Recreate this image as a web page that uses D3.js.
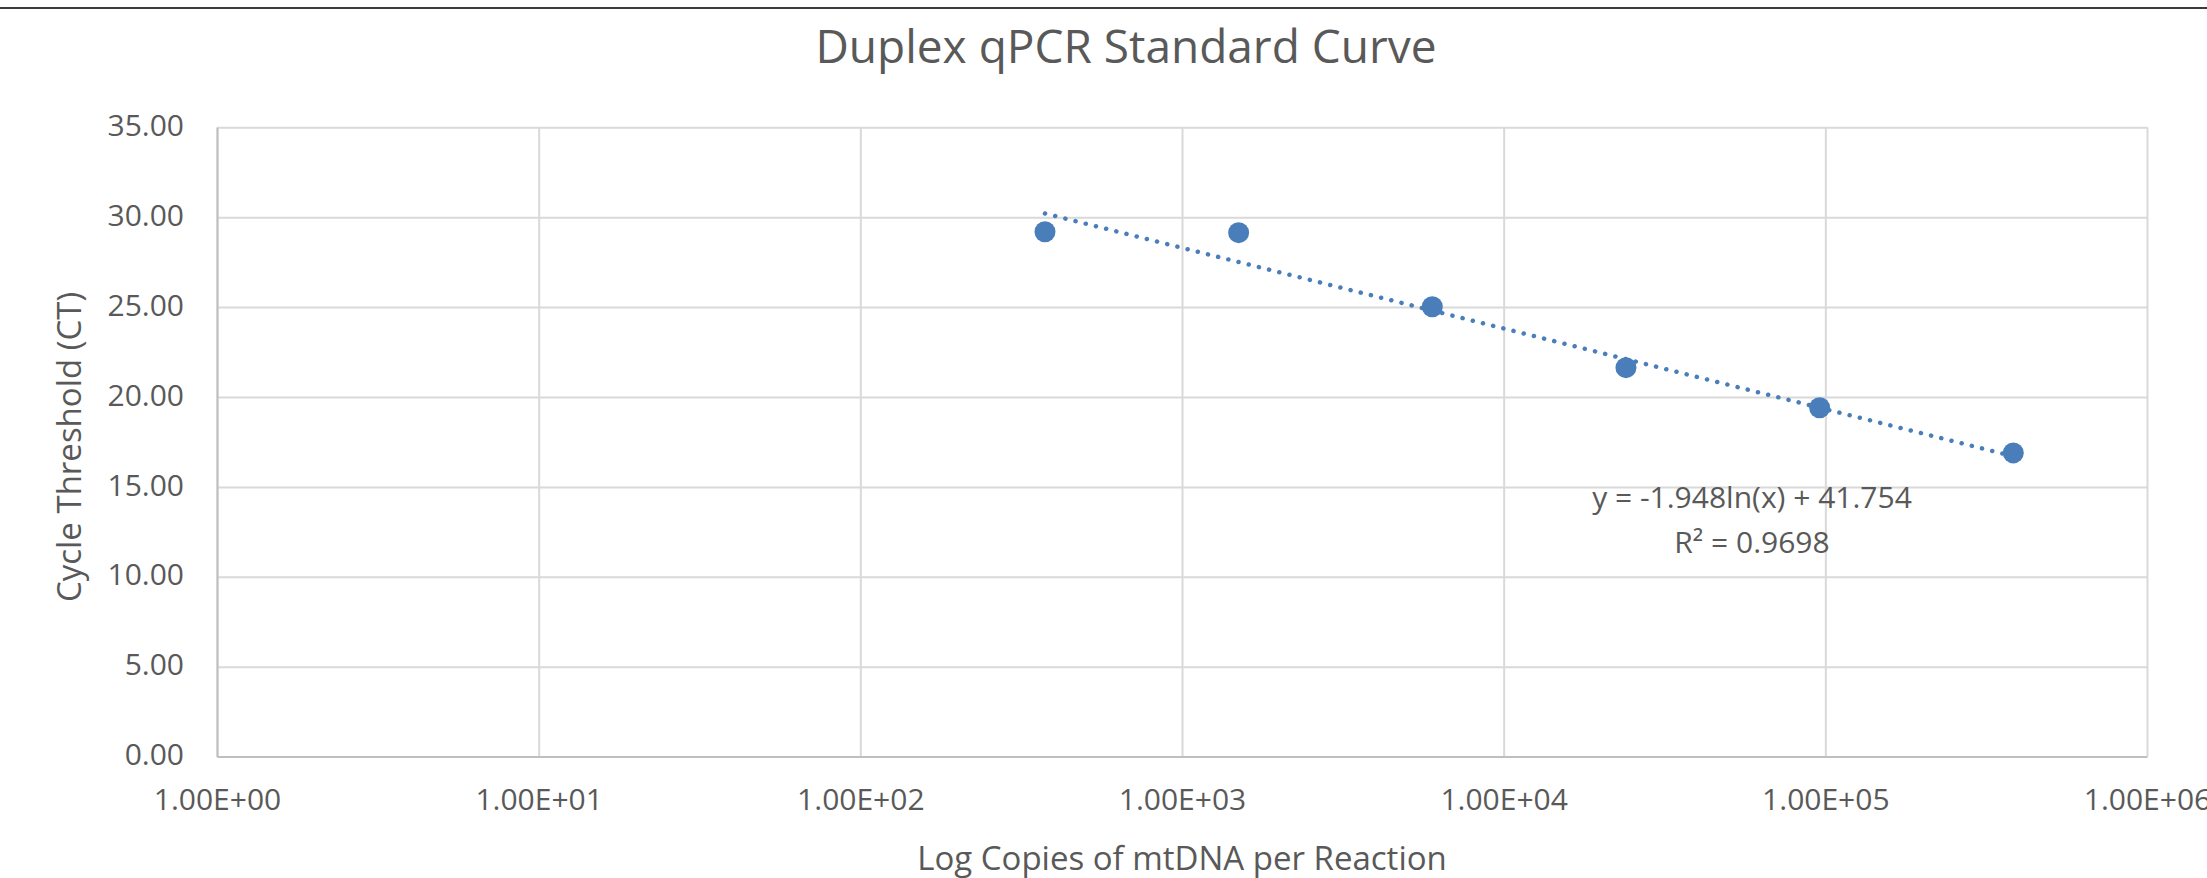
<!DOCTYPE html>
<html>
<head>
<meta charset="utf-8">
<script src="https://cdn.jsdelivr.net/npm/d3@7"></script>
<style>
  body { margin: 0; background: #fff; }
  text { font-family: "Open Sans", sans-serif; fill: #595959; }
</style>
</head>
<body>
<div id="chart"></div>
<script>
// data (4-fold dilution series)
var copies = [375, 1500, 6000, 24000, 96000, 384000];
var ctValues = [29.19, 29.14, 25.02, 21.63, 19.40, 16.89];
var xTicks = [1, 10, 100, 1000, 10000, 100000, 1000000];
var yTicks = [0, 5, 10, 15, 20, 25, 30, 35];
var trendSlope = -1.948, trendIntercept = 41.754;
var trendLabels = ["y = -1.948ln(x) + 41.754", "R\u00b2 = 0.9698"];

var W = 2207, H = 878;
var margin = {top: 127.3, right: 60, bottom: 121.4, left: 217};
var width = W - margin.left - margin.right,
    height = H - margin.top - margin.bottom;

var svg = d3.select("#chart").append("svg")
  .attr("width", W).attr("height", H);

svg.append("rect").attr("width", W).attr("height", H).attr("fill", "#fff");

// dark frame line across the top
svg.append("line")
  .attr("x1", 0).attr("x2", W).attr("y1", 8).attr("y2", 8)
  .attr("stroke", "#3a3a3a").attr("stroke-width", 2);

var g = svg.append("g")
  .attr("transform", "translate(" + margin.left + "," + margin.top + ")");

var x = d3.scaleLog().domain([1, 1e6]).range([0, width]);
var y = d3.scaleLinear().domain([0, 35]).range([height, 0]);

// gridlines
g.append("g")
  .call(d3.axisLeft(y).tickValues(yTicks).tickSize(-width).tickFormat(""))
  .call(function(s) { s.select(".domain").remove(); })
  .selectAll("line").attr("stroke", "#d9d9d9").attr("stroke-width", 2);

g.append("g")
  .attr("transform", "translate(0," + height + ")")
  .call(d3.axisBottom(x).tickValues(xTicks).tickSize(-height).tickFormat(""))
  .call(function(s) { s.select(".domain").remove(); })
  .selectAll("line").attr("stroke", "#d9d9d9").attr("stroke-width", 2);

// axes
var yAxis = g.append("g")
  .call(d3.axisLeft(y).tickValues(yTicks).tickSize(0).tickPadding(33)
    .tickFormat(d3.format(".2f")));
yAxis.select(".domain").attr("stroke", "#bfbfbf").attr("stroke-width", 2);
yAxis.selectAll("text")
  .attr("dy", "0.27em")
  .style("font-size", "30px")
  .style("font-family", "Open Sans")
  .attr("fill", "#595959");

var xAxis = g.append("g")
  .attr("transform", "translate(0," + height + ")")
  .call(d3.axisBottom(x).tickValues(xTicks).tickSize(0).tickPadding(32)
    .tickFormat(function(d) {
      var e = Math.round(Math.log10(d));
      return "1.00E+" + (e < 10 ? "0" : "") + e;
    }));
xAxis.select(".domain").attr("stroke", "#bfbfbf").attr("stroke-width", 2);
xAxis.selectAll("text")
  .style("font-size", "30px")
  .style("font-family", "Open Sans")
  .attr("fill", "#595959");

// trendline, log fit drawn between first and last point
var xEnds = d3.extent(copies);
g.append("path")
  .datum(xEnds)
  .attr("d", d3.line()
    .x(function(d) { return x(d); })
    .y(function(d) { return y(trendSlope * Math.log(d) + trendIntercept); }))
  .attr("fill", "none")
  .attr("stroke", "#4a7ebb")
  .attr("stroke-width", 4.5)
  .attr("stroke-linecap", "round")
  .attr("stroke-dasharray", "0.1 10.4");

// points
g.selectAll(".dot")
  .data(copies)
  .enter()
  .append("circle")
  .attr("class", "dot")
  .attr("cx", function(d) { return x(d); })
  .attr("cy", function(d, i) { return y(ctValues[i]); })
  .attr("r", 10.5)
  .attr("fill", "#4a7ebb");

// equation label
g.selectAll(".eq")
  .data(trendLabels)
  .enter()
  .append("text")
  .attr("class", "eq")
  .attr("x", 1752 - margin.left)
  .attr("y", function(d, i) { return 508 - margin.top + i * 45; })
  .attr("text-anchor", "middle")
  .style("font-size", "30px")
  .text(function(d) { return d; });

// titles
svg.append("text")
  .attr("x", 1126).attr("y", 63)
  .attr("text-anchor", "middle")
  .style("font-size", "46px")
  .text("Duplex qPCR Standard Curve");

svg.append("text")
  .attr("x", margin.left + width / 2).attr("y", 870)
  .attr("text-anchor", "middle")
  .style("font-size", "33px")
  .text("Log Copies of mtDNA per Reaction");

svg.append("text")
  .attr("transform", "translate(81," + (margin.top + height / 2 + 5) + ") rotate(-90)")
  .attr("text-anchor", "middle")
  .style("font-size", "33px")
  .text("Cycle Threshold (CT)");
</script>
</body>
</html>
